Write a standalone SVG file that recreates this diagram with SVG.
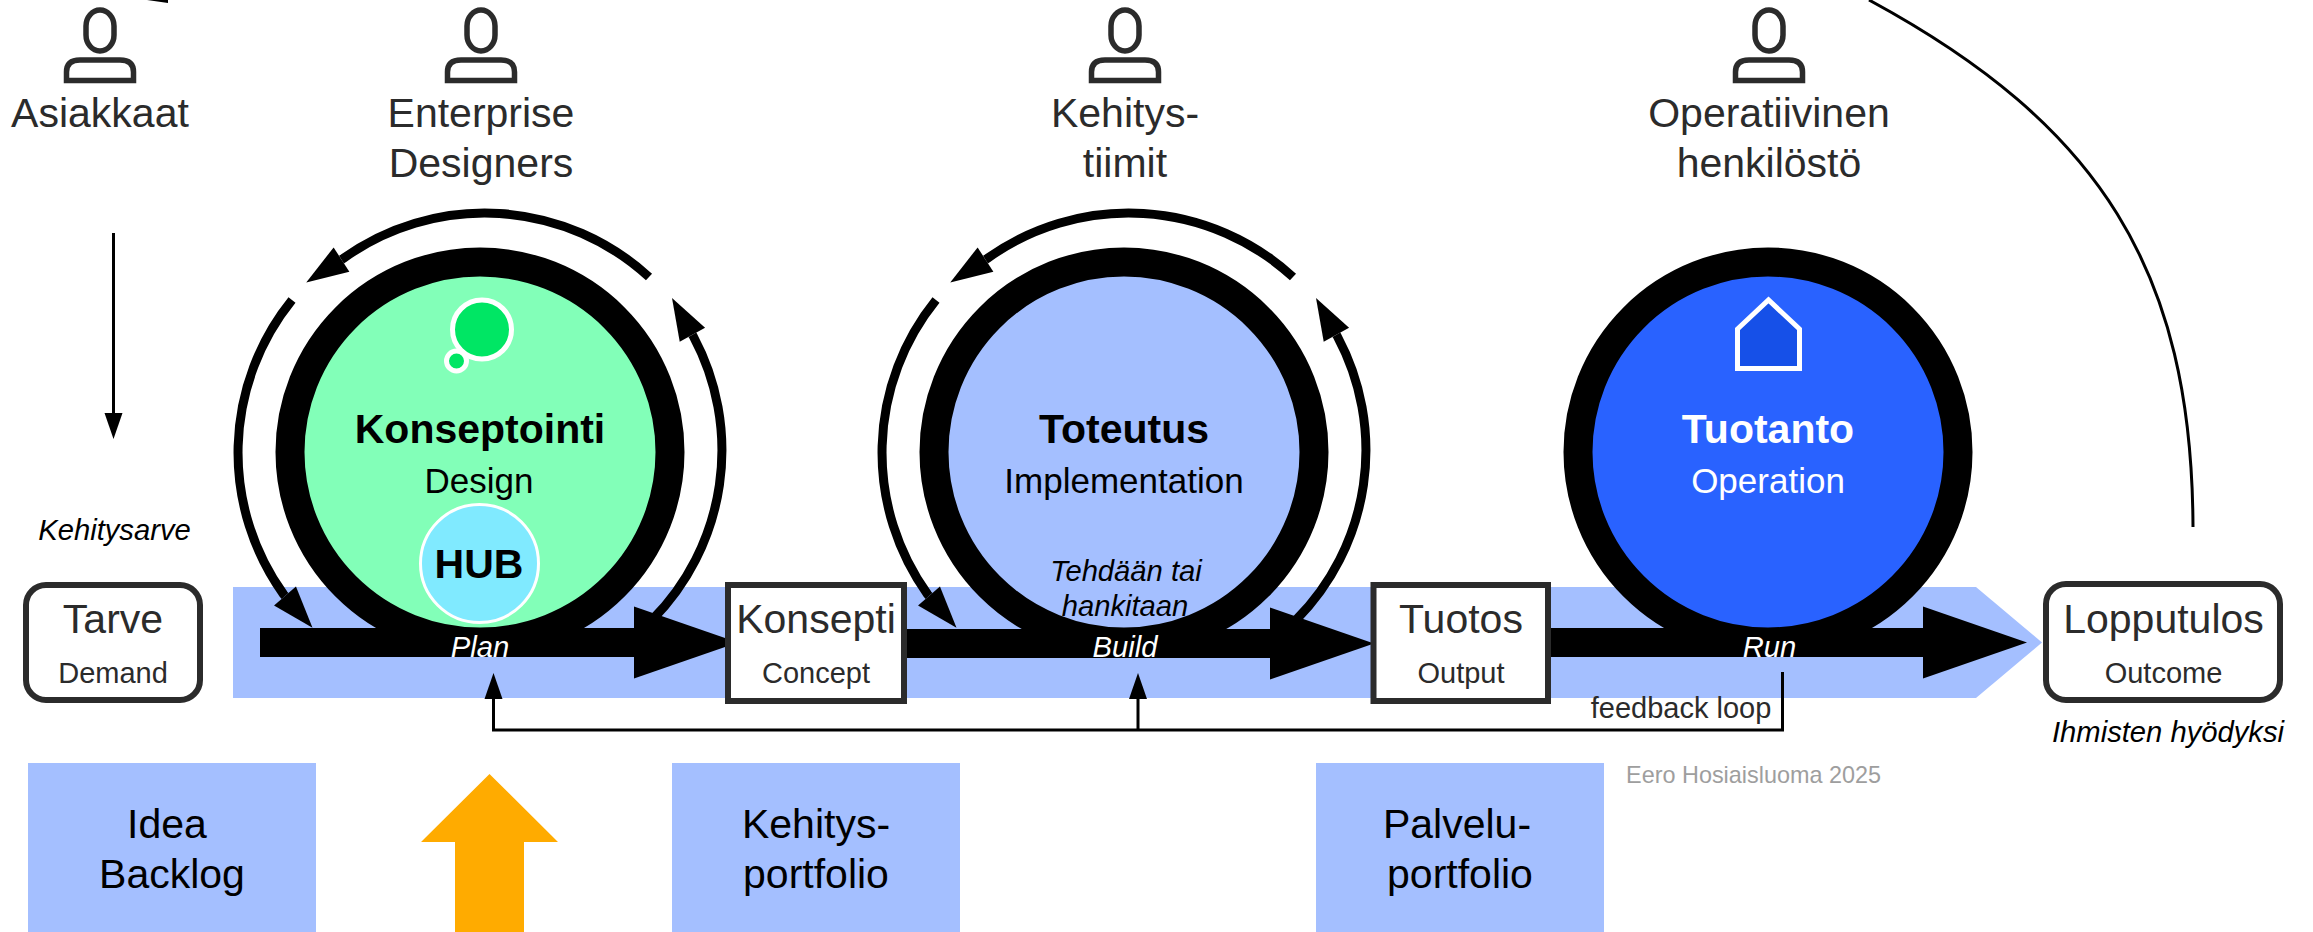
<svg xmlns="http://www.w3.org/2000/svg" width="2313" height="932" viewBox="0 0 2313 932">
<style>
text{font-family:"Liberation Sans",Arial,Helvetica,sans-serif;text-anchor:middle}
.l{font-size:41px;fill:#2b2b2b}
.s{font-size:29px;fill:#2b2b2b}
.h{font-size:41px;font-weight:700;fill:#000}
.d{font-size:35px;fill:#000}
.i{font-size:29.200px;font-style:italic;fill:#000}
.w{fill:#fff}
.b{font-size:41px;fill:#000}
.ring{stroke:#000;stroke-width:29}
.box{fill:#fff;stroke:#2b2b2b;stroke-width:6}
.pf{fill:#a4bfff}
.person{fill:none;stroke:#2b2b2b;stroke-width:5.5}
.main{fill:none;stroke:#000;stroke-width:29;marker-end:url(#bigHead)}
.loop{fill:none;stroke:#000;stroke-width:9;marker-end:url(#loopHead)}
.thin{fill:none;stroke:#000;stroke-width:3}
</style>
<defs>
<marker id="bigHead" markerUnits="userSpaceOnUse" markerWidth="110" markerHeight="72" refX="0" refY="36" orient="auto" overflow="visible"><path d="M0,0L104,36L0,72Z" fill="#000"/></marker>
<marker id="loopHead" markerUnits="userSpaceOnUse" markerWidth="42" markerHeight="29" refX="0" refY="14.5" orient="auto" overflow="visible"><path d="M0,0L42,14.5L0,29Z" fill="#000"/></marker>
<marker id="smallHead" markerUnits="userSpaceOnUse" markerWidth="26" markerHeight="18" refX="0" refY="9" orient="auto" overflow="visible"><path d="M0,0L26,9L0,18Z" fill="#000"/></marker>
<g id="person"><rect x="-14" y="10" width="28" height="41" rx="14" ry="16"/><path d="M-33.5,80.5V72Q-33.5,60 -20,60H20Q33.5,60 33.5,72V80.5Z"/></g>
</defs>
<rect width="2313" height="932" fill="#fff"/>
<polygon id="value-stream" points="233,587 1976,587 2042,642.5 1976,698 233,698" fill="#a4bfff"/>
<g id="connectors">
<path class="main" d="M260,642.5H634"/>
<path class="main" d="M900,643.500H1270"/>
<path class="main" d="M1551,642.500H1923"/>
<g id="loops-design">
<path class="loop" d="M649,277A243,243 0 0 0 343.200,258.500L341.500,259.600"/>
<path class="loop" d="M292,300A243,243 0 0 0 283.700,594.500L285,596"/>
<path class="loop" d="M652,620A241,241 0 0 0 693.400,336.500L692.400,334.700"/>
</g>
<g id="loops-build" transform="translate(644 0)">
<path class="loop" d="M649,277A243,243 0 0 0 343.200,258.500L341.500,259.600"/>
<path class="loop" d="M292,300A243,243 0 0 0 283.700,594.500L285,596"/>
<path class="loop" d="M652,620A241,241 0 0 0 693.400,336.500L692.400,334.700"/>
</g>
<path class="thin" d="M1782.500,672V730H493.500V699" marker-end="url(#smallHead)"/>
<path class="thin" d="M1138,730V699" marker-end="url(#smallHead)"/>
<path class="thin" d="M113.500,233V413" marker-end="url(#smallHead)"/>
<path class="thin" d="M2193,527C2192,270 2100,125 1869,0"/>
<polygon points="147,0 168,0 168,3" fill="#000"/>
</g>
<g id="asiakkaat"><use href="#person" x="100" class="person"/><text class="l" x="100" y="127">Asiakkaat</text></g>
<g id="enterprise-designers"><use href="#person" x="481" class="person"/><text class="l" x="481" y="127">Enterprise</text><text class="l" x="481" y="177">Designers</text></g>
<g id="kehitystiimit"><use href="#person" x="1125" class="person"/><text class="l" x="1125" y="127">Kehitys-</text><text class="l" x="1125" y="177">tiimit</text></g>
<g id="operatiivinen"><use href="#person" x="1769" class="person"/><text class="l" x="1769" y="127">Operatiivinen</text><text class="l" x="1769" y="177">henkilöstö</text></g>
<text id="kehitysarve" class="i" x="114.500" y="540">Kehitysarve</text>
<g id="tarve"><rect class="box" x="26" y="585" width="174" height="115" rx="20"/><text class="l" x="113" y="633">Tarve</text><text class="s" x="113" y="683">Demand</text></g>
<g id="konseptointi"><circle class="ring" cx="480" cy="452" r="190" fill="#82ffb8"/>
<circle cx="482" cy="329.500" r="29.500" fill="#00e664" stroke="#fff" stroke-width="5"/><circle cx="456.500" cy="361" r="10" fill="#00e664" stroke="#fff" stroke-width="5"/>
<text class="h" x="480" y="443">Konseptointi</text><text class="d" x="479" y="493">Design</text><text class="i w" x="480" y="657">Plan</text></g>
<g id="hub"><circle cx="479.500" cy="563.500" r="59" fill="#80eaff" stroke="#fff" stroke-width="3"/><text class="h" x="479" y="578">HUB</text></g>
<g id="konsepti"><rect class="box" x="728" y="585" width="176" height="116"/><text class="l" x="816" y="633">Konsepti</text><text class="s" x="816" y="683">Concept</text></g>
<g id="toteutus"><circle class="ring" cx="1124" cy="452" r="190" fill="#a4bfff"/>
<text class="h" x="1124" y="443">Toteutus</text><text class="d" x="1124" y="493">Implementation</text><text class="i" x="1126" y="581">Tehdään tai</text><text class="i" x="1125" y="616">hankitaan</text><text class="i w" x="1125" y="657">Build</text></g>
<g id="tuotos"><rect class="box" x="1373.500" y="585" width="174.500" height="116"/><text class="l" x="1461" y="633">Tuotos</text><text class="s" x="1461" y="683">Output</text></g>
<g id="tuotanto"><circle class="ring" cx="1768" cy="452" r="190" fill="#2962ff"/>
<path d="M1737.500,368.500V329L1768.500,300L1799.500,329V368.500Z" fill="#1650e8" stroke="#fff" stroke-width="5"/>
<text class="h w" x="1768" y="443">Tuotanto</text><text class="d w" x="1768" y="493">Operation</text><text class="i w" x="1769.500" y="657">Run</text></g>
<g id="lopputulos"><rect class="box" x="2046" y="584" width="234" height="116" rx="20"/><text class="l" x="2163.500" y="633">Lopputulos</text><text class="s" x="2163.500" y="683">Outcome</text><text class="i" x="2168" y="741.500">Ihmisten hyödyksi</text></g>
<text id="feedback-label" class="s" x="1681" y="718">feedback loop</text>
<text id="credit" x="1753.500" y="783" style="font-size:23.400px;fill:#9e9e9e">Eero Hosiaisluoma 2025</text>
<g id="idea-backlog"><rect class="pf" x="28" y="763" width="288" height="169"/><text class="b" x="167" y="838">Idea</text><text class="b" x="172" y="888">Backlog</text></g>
<polygon id="orange-arrow" points="489.500,774 558,842 524,842 524,932 455,932 455,842 421,842" fill="#ffab00"/>
<g id="kehitysportfolio"><rect class="pf" x="672" y="763" width="288" height="169"/><text class="b" x="816" y="838">Kehitys-</text><text class="b" x="816" y="888">portfolio</text></g>
<g id="palveluportfolio"><rect class="pf" x="1316" y="763" width="288" height="169"/><text class="b" x="1457" y="838">Palvelu-</text><text class="b" x="1460" y="888">portfolio</text></g>
</svg>
